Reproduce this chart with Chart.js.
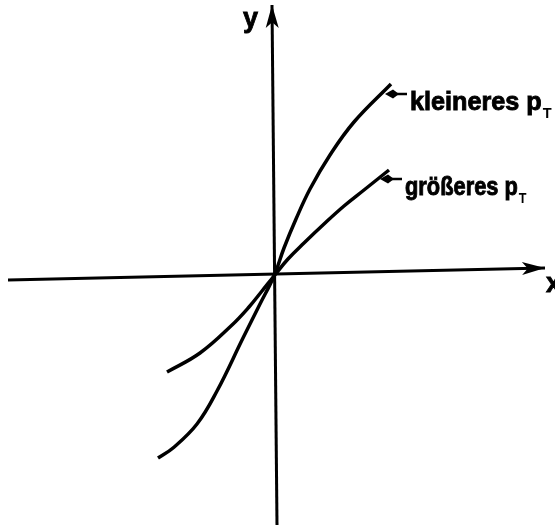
<!DOCTYPE html>
<html><head><meta charset="utf-8">
<script src="https://cdn.jsdelivr.net/npm/chart.js@4.4.0/dist/chart.umd.min.js"></script>
<style>html,body{margin:0;padding:0;background:#fff}#wrap{width:555px;height:525px}</style>
</head><body><div id="wrap"><canvas id="c"></canvas></div>
<script>
// curve for smaller p_T (steeper)
const steepX = [-1.16,-1.01,-0.77,-0.57,-0.31,-0.14,0,0.10,0.22,0.36,0.56,0.80,1.17];
const steepY = [-1.82,-1.72,-1.48,-1.15,-0.62,-0.28,0,0.28,0.57,0.87,1.21,1.54,1.92];
// curve for larger p_T (flatter)
const flatX = [-1.07,-0.74,-0.42,-0.25,-0.12,0,0.14,0.30,0.50,0.70,0.90,1.15];
const flatY = [-0.96,-0.77,-0.49,-0.31,-0.15,0,0.17,0.33,0.52,0.70,0.86,1.06];
// axis lines
const xAxisX = [-2.66, 2.71];
const xAxisY = [-0.04, 0.08];
const yAxisX = [0.03, -0.02];
const yAxisY = [-2.49, 2.71];
// texts
const curveLabels = ['kleineres', 'größeres'];
const subscriptLabel = ['p', 'T'];
const axisNames = ['x', 'y'];

const pts = (xs, ys) => xs.map((x, i) => ({x: x, y: ys[i]}));
const FONT = '"Liberation Sans", Arial, sans-serif';

const decor = {
  id: 'decor',
  afterDatasetsDraw(chart) {
    const ctx = chart.ctx;
    const xs = chart.scales.x, ys = chart.scales.y;
    const P = (x, y) => [xs.getPixelForValue(x), ys.getPixelForValue(y)];
    ctx.save();
    ctx.fillStyle = '#000';
    ctx.strokeStyle = '#000';
    function head(tip, from, len, hw) {
      const dx = tip[0] - from[0], dy = tip[1] - from[1];
      const d = Math.hypot(dx, dy), ux = dx / d, uy = dy / d;
      const bx = tip[0] - ux * len, by = tip[1] - uy * len;
      ctx.beginPath();
      ctx.moveTo(tip[0], tip[1]);
      ctx.lineTo(bx - uy * hw, by + ux * hw);
      ctx.lineTo(tip[0] - ux * len * 0.75, tip[1] - uy * len * 0.75);
      ctx.lineTo(bx + uy * hw, by - ux * hw);
      ctx.closePath();
      ctx.fill();
    }
    const xt = P(xAxisX[1], xAxisY[1]), xf = P(xAxisX[0], xAxisY[0]);
    const yt = P(yAxisX[1], yAxisY[1]), yf = P(yAxisX[0], yAxisY[0]);
    head(xt, xf, 23, 6.5);
    head(yt, yf, 23, 6.5);
    // axis names
    ctx.font = 'bold 27px ' + FONT;
    ctx.textBaseline = 'alphabetic';
    ctx.lineWidth = 0.8;
    ctx.fillText(axisNames[0], xt[0] + 1, xt[1] + 24);
    ctx.strokeText(axisNames[0], xt[0] + 1, xt[1] + 24);
    ctx.fillText(axisNames[1], yt[0] - 29, yt[1] + 22);
    ctx.strokeText(axisNames[1], yt[0] - 29, yt[1] + 22);
    // curve labels
    const ends = [P(steepX[steepX.length - 1], steepY[steepY.length - 1]),
                  P(flatX[flatX.length - 1], flatY[flatY.length - 1])];
    ends.forEach((e, i) => {
      const ay = e[1] + 10 + (i === 1 ? -1 : 0);
      const tipx = e[0] - 6 - (i === 1 ? 3 : 0);
      const tailx = tipx + 22;
      ctx.lineWidth = 2.5;
      ctx.beginPath(); ctx.moveTo(tipx + 4, ay); ctx.lineTo(tailx, ay); ctx.stroke();
      ctx.beginPath();
      ctx.moveTo(tipx, ay);
      ctx.lineTo(tipx + 8, ay - 4.5);
      ctx.lineTo(tipx + 14, ay);
      ctx.lineTo(tipx + 8, ay + 4.5);
      ctx.closePath(); ctx.fill();
      const base = ay + 16;
      ctx.font = 'bold 26px ' + FONT;
      const x = tailx + 3;
      ctx.save();
      ctx.translate(x, base);
      const sc = i === 0 ? 0.97 : 0.84;
      ctx.scale(sc, 1);
      ctx.lineWidth = 0.9;
      ctx.fillText(curveLabels[i], 0, 0);
      ctx.strokeText(curveLabels[i], 0, 0);
      const w = ctx.measureText(curveLabels[i] + ' ').width;
      ctx.fillText(subscriptLabel[0], w, 0);
      ctx.strokeText(subscriptLabel[0], w, 0);
      const wp = ctx.measureText(subscriptLabel[0]).width;
      ctx.font = 'bold 15px ' + FONT;
      ctx.fillText(subscriptLabel[1], w + wp + 1, 8);
      ctx.restore();
    });
    ctx.restore();
  }
};

new Chart(document.getElementById('c'), {
  type: 'scatter',
  data: {
    datasets: [
      {label: 'x-Achse', data: pts(xAxisX, xAxisY), showLine: true, borderColor: '#000', borderWidth: 3, pointRadius: 0},
      {label: 'y-Achse', data: pts(yAxisX, yAxisY), showLine: true, borderColor: '#000', borderWidth: 3, pointRadius: 0},
      {label: 'kleineres pT', data: pts(steepX, steepY), showLine: true, borderColor: '#000', borderWidth: 3.5, pointRadius: 0, tension: 0.4},
      {label: 'größeres pT', data: pts(flatX, flatY), showLine: true, borderColor: '#000', borderWidth: 3.5, pointRadius: 0, tension: 0.4}
    ]
  },
  options: {
    responsive: true,
    maintainAspectRatio: false,
    animation: false,
    layout: {padding: 0},
    plugins: {legend: {display: false}, tooltip: {enabled: false}},
    scales: {
      x: {type: 'linear', display: false, min: -2.74, max: 2.81},
      y: {type: 'linear', display: false, min: -2.49, max: 2.76}
    }
  },
  plugins: [decor]
});
</script>
</body></html>
